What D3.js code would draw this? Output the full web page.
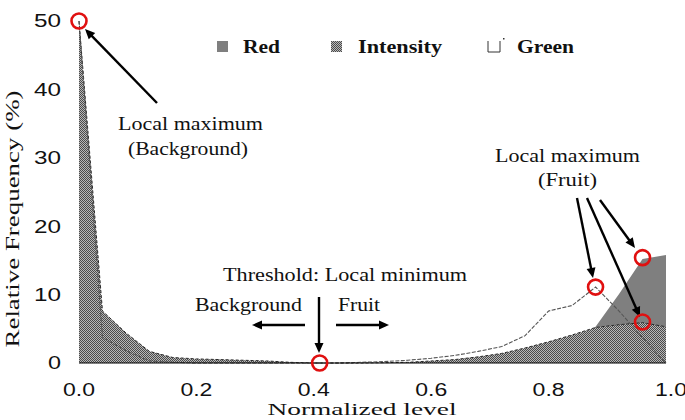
<!DOCTYPE html>
<html><head><meta charset="utf-8">
<script src="https://cdn.jsdelivr.net/npm/d3@7"></script>
<style>
body{margin:0;background:#fff}
.serif{font-family:"Liberation Serif","Times New Roman",Times,serif}
.sans{font-family:"Liberation Sans",Arial,Helvetica,sans-serif}
</style>
</head><body><svg id="c" width="685" height="420"></svg>
<script>
// ---- data ----
const levels = [0,0.04,0.08,0.12,0.16,0.20,0.24,0.28,0.32,0.36,0.40,0.44,0.48,0.52,0.56,0.60,0.64,0.68,0.72,0.76,0.80,0.84,0.88,0.92,0.96,1.00];
const red       = [20,2.0,1.0,0.5,0.3,0.2,0.2,0.1,0.1,0,0,0,0,0,0,0.1,0.2,0.4,0.7,1.2,2.0,3.0,5.3,10.1,15.2,15.8];
const intensity = [50,7.6,4.4,1.7,0.8,0.6,0.5,0.4,0.3,0.1,0,0,0,0.05,0.1,0.3,0.5,0.9,1.4,2.2,3.1,4.1,5.2,5.6,5.9,5.3];
const green     = [50,3.7,1.8,0.3,0.1,0,0,0,0,0,0,0,0.1,0.2,0.4,0.7,1.1,1.7,2.4,4.0,7.6,8.4,11.1,7.6,3.7,0];
const xTicks = [0,0.2,0.4,0.6,0.8,1.0];
const yTicks = [0,10,20,30,40,50];
const seriesNames = ["Red","Intensity","Green"];
const markedPoints = [[0,50],[0.41,0],[0.88,11.1],[0.96,15.4],[0.96,6.0]];

// ---- drawing ----
const svg = d3.select("#c");
const x = d3.scaleLinear().domain([0,1]).range([79,666]);
const y = d3.scaleLinear().domain([0,50]).range([363,21]);

const defs = svg.append("defs");
const pat = defs.append("pattern").attr("id","hatch").attr("width",2).attr("height",2).attr("patternUnits","userSpaceOnUse");
pat.append("rect").attr("width",2).attr("height",2).attr("fill","#b8b8b8");
pat.append("rect").attr("width",1).attr("height",1).attr("fill","#4a4a4a");
pat.append("rect").attr("x",1).attr("y",1).attr("width",1).attr("height",1).attr("fill","#4a4a4a");

const pts = arr => levels.map((l,i)=>[l,arr[i]]);
const area = d3.area().x(d=>x(d[0])).y0(y(0)).y1(d=>y(d[1]));
const line = d3.line().x(d=>x(d[0])).y(d=>y(d[1]));

svg.append("path").attr("d",area(pts(green))).attr("fill","#fff");
svg.append("path").attr("d",area(pts(red))).attr("fill","#7f7f7f");
svg.append("path").attr("d",area(pts(intensity))).attr("fill","url(#hatch)");
svg.append("path").attr("d",line(pts(intensity))).attr("fill","none")
  .attr("stroke","#2a2a2a").attr("stroke-width",1).attr("stroke-dasharray","3,2");
svg.append("path").attr("d",line(pts(green))).attr("fill","none")
  .attr("stroke","#555").attr("stroke-width",1.1).attr("stroke-dasharray","4,1.5");

svg.append("line").attr("x1",x(0)).attr("x2",x(1)).attr("y1",y(0)).attr("y2",y(0))
  .attr("stroke","#000").attr("stroke-width",1.2);

// tick labels
svg.selectAll(".yt").data(yTicks).enter().append("text").attr("class","sans")
  .attr("x",61).attr("y",d=>y(d)).attr("dy","0.36em").attr("text-anchor","end")
  .attr("font-size",18).attr("fill","#111")
  .attr("textLength",d=>String(d).length>1?27:13).attr("lengthAdjust","spacingAndGlyphs")
  .text(d=>d);
svg.selectAll(".xt").data(xTicks).enter().append("text").attr("class","sans")
  .attr("x",d=>x(d)+(d===1?5:0)).attr("y",396).attr("text-anchor","middle")
  .attr("font-size",19).attr("fill","#111")
  .attr("textLength",32).attr("lengthAdjust","spacingAndGlyphs")
  .text(d=>d.toFixed(1));

// axis titles
svg.append("text").attr("class","serif").attr("transform","translate(19,219) rotate(-90)").attr("text-anchor","middle")
  .attr("font-size",19).attr("fill","#111")
  .attr("textLength",257).attr("lengthAdjust","spacingAndGlyphs")
  .text("Relative Frequency (%)");
svg.append("text").attr("class","serif").attr("x",362).attr("y",415).attr("text-anchor","middle")
  .attr("font-size",17).attr("fill","#111")
  .attr("textLength",189).attr("lengthAdjust","spacingAndGlyphs")
  .text("Normalized level");

// legend
const leg = [
  {name:seriesNames[0], mx:217, tx:243, tw:37},
  {name:seriesNames[1], mx:331, tx:358, tw:84},
  {name:seriesNames[2], mx:488, tx:517, tw:57}
];
svg.append("rect").attr("x",leg[0].mx).attr("y",41).attr("width",11).attr("height",11).attr("fill","#7f7f7f");
svg.append("rect").attr("x",leg[1].mx).attr("y",41).attr("width",11).attr("height",11).attr("fill","url(#hatch)");
svg.append("path").attr("d",`M${leg[2].mx},41V52H${leg[2].mx+12}V41`).attr("fill","none").attr("stroke","#333").attr("stroke-width",1);
svg.append("rect").attr("x",leg[2].mx+15).attr("y",38).attr("width",1.5).attr("height",1.5).attr("fill","#333");
leg.forEach(l=>{
  svg.append("text").attr("class","serif").attr("x",l.tx).attr("y",52.5).attr("font-weight","bold")
    .attr("font-size",18).attr("fill","#111").attr("textLength",l.tw).attr("lengthAdjust","spacingAndGlyphs").text(l.name);
});

// annotation texts
const notes = [
  ["Local maximum",190.5,130,145],
  ["(Background)",188,155,120],
  ["Local maximum",567.5,161.5,145],
  ["(Fruit)",567.5,186,59],
  ["Threshold: Local minimum",345,281,244],
  ["Background",248.5,311,107],
  ["Fruit",359,311,42]
];
notes.forEach(n=>{
  svg.append("text").attr("class","serif").attr("x",n[1]).attr("y",n[2]).attr("text-anchor","middle")
    .attr("font-size",19).attr("fill","#111")
    .attr("textLength",n[3]).attr("lengthAdjust","spacingAndGlyphs").text(n[0]);
});

// arrows
function arrow(x1,y1,x2,y2){
  const dx=x2-x1, dy=y2-y1, L=Math.hypot(dx,dy), ux=dx/L, uy=dy/L;
  const hl=10, hw=4.5;
  const bx=x2-ux*hl, by=y2-uy*hl;
  svg.append("line").attr("x1",x1).attr("y1",y1).attr("x2",bx+ux).attr("y2",by+uy)
    .attr("stroke","#000").attr("stroke-width",2.4);
  svg.append("polygon").attr("points",`${x2},${y2} ${bx-uy*hw},${by+ux*hw} ${bx+uy*hw},${by-ux*hw}`).attr("fill","#000");
}
arrow(157,103,85,29);
arrow(305,325,252,325);
arrow(336,325,389,325);
arrow(319,297,319,353);
arrow(577,198,593,278);
arrow(587,198,640,317);
arrow(600,200,635,248);

svg.selectAll(".mk").data(markedPoints).enter().append("circle")
  .attr("cx",d=>x(d[0])).attr("cy",d=>y(d[1])).attr("r",7.5)
  .attr("fill","none").attr("stroke","#e01010").attr("stroke-width",2.6);
</script></body></html>
